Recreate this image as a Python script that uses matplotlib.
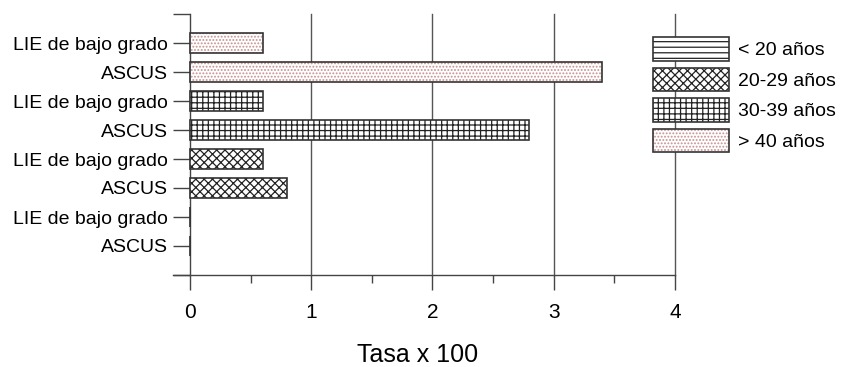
import matplotlib
matplotlib.use('Agg')
import matplotlib.pyplot as plt
from matplotlib.patches import Patch
from matplotlib.legend_handler import HandlerTuple

plt.rcParams['font.family'] = ['Liberation Sans', 'DejaVu Sans']
plt.rcParams['hatch.linewidth'] = 0.9

# datos
grupos = ['< 20 años', '20-29 años', '30-39 años', '> 40 años']
ascus = [0.0, 0.8, 2.8, 3.4]
lie = [0.0, 0.6, 0.6, 0.6]
etiquetas = ['ASCUS', 'LIE de bajo grado']
tramas = ['---', 'xxxx', '+++', '.....']
color_trama = ['#222222', '#222222', '#222222', '#c89090']

fig = plt.figure(figsize=(8.5, 3.67), dpi=100)
ax = fig.add_axes([173/850, 92/367, 502/850, 261/367])

alto = 0.7
handles = []
for i, g in enumerate(grupos):
    pos = [2*i, 2*i + 1]
    vals = [ascus[i], lie[i]]
    ax.barh(pos, vals, height=alto, color='white', edgecolor=color_trama[i],
            hatch=tramas[i], linewidth=0, zorder=3)
    ax.barh(pos, vals, height=alto, color='none', edgecolor='#333333',
            linewidth=1.2, zorder=4)
    h1 = Patch(facecolor='white', edgecolor=color_trama[i], hatch=tramas[i], linewidth=0)
    h2 = Patch(facecolor='none', edgecolor='#333333', linewidth=1.2)
    handles.append((h1, h2))

ax.set_xlim(-0.14, 4)
ax.set_ylim(-1, 8)
ax.spines['left'].set_position(('data', 0))
ax.spines['top'].set_visible(False)
ax.spines['right'].set_visible(False)
for s in ['left', 'bottom']:
    ax.spines[s].set_color('#444444')
    ax.spines[s].set_linewidth(1)

yt = list(range(-1, 9))
ylab = [''] + etiquetas * 4 + ['']
ax.set_yticks(yt)
ax.set_yticklabels(ylab, fontsize=14)
ax.tick_params(axis='y', length=12.2, width=1, color='#444444', pad=3.5)

ax.set_xticks([0, 1, 2, 3, 4])
ax.set_xticks([0.5, 1.5, 2.5, 3.5], minor=True)
ax.tick_params(axis='x', which='major', direction='out', length=10.8, width=1,
               color='#444444', labelsize=15, pad=9)
ax.tick_params(axis='x', which='minor', direction='out', length=5.8, width=1,
               color='#444444')
ax.set_xlabel('Tasa x 100', fontsize=18)
ax.xaxis.set_label_coords(0.488, -0.262)

for x in [1, 2, 3, 4]:
    ax.axvline(x, color='#555555', linewidth=1, zorder=1, clip_on=False)

fig.legend(handles, grupos, handler_map={tuple: HandlerTuple(ndivide=1, pad=0)},
           loc='upper left', bbox_to_anchor=(653/850, 1 - 37/367),
           frameon=False, fontsize=14, handlelength=3.9, handleheight=1.5,
           labelspacing=0.35, handletextpad=0.45, borderaxespad=0, borderpad=0)

fig.savefig('out.png', dpi=100)
